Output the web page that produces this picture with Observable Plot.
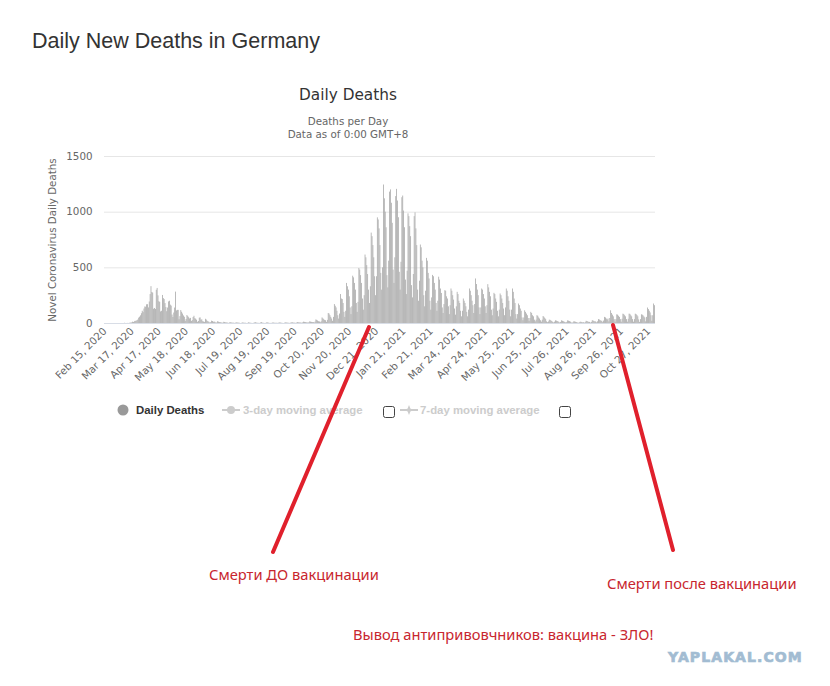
<!DOCTYPE html>
<html><head><meta charset="utf-8">
<script src="https://cdn.jsdelivr.net/npm/d3@7"></script>
<script src="https://cdn.jsdelivr.net/npm/@observablehq/plot@0.6"></script>
<style>
body{margin:0;background:#fff;}
#wrap{position:relative;width:830px;height:686px;overflow:hidden;}
#chart{position:absolute;left:0;top:140px;}
#over{position:absolute;left:0;top:0;}
</style></head><body><div id="wrap"><div id="chart"></div><svg id="over" width="830" height="686"></svg></div>
<script>
// ---- data ----
const startDate = "2020-02-15";
const tickLabels = ["Feb 15, 2020","Mar 17, 2020","Apr 17, 2020","May 18, 2020","Jun 18, 2020","Jul 19, 2020","Aug 19, 2020","Sep 19, 2020","Oct 20, 2020","Nov 20, 2020","Dec 21, 2020","Jan 21, 2021","Feb 21, 2021","Mar 24, 2021","Apr 24, 2021","May 25, 2021","Jun 25, 2021","Jul 26, 2021","Aug 26, 2021","Sep 26, 2021","Oct 27, 2021"];
const yTicks = [0, 500, 1000, 1500];
// daily deaths, one row per week (Sat..Fri) starting Feb 15, 2020
const dailyDeaths = [
0,0,0,0,0,0,0,
0,0,0,0,0,0,0,
0,0,0,0,0,0,0,
0,0,2,0,0,1,0,
1,3,4,5,12,9,16,
20,19,26,31,48,57,69,
88,110,98,130,149,146,168,
169,140,193,260,331,279,273,
128,135,126,299,315,248,196,
190,104,110,252,224,215,179,
143,106,139,194,200,165,156,
76,54,94,139,282,113,118,
118,34,62,116,101,85,68,
56,20,36,72,62,52,41,
46,18,26,54,65,43,39,
29,11,18,48,50,30,33,
16,13,10,38,31,20,15,
12,5,7,21,18,11,13,
10,3,5,16,12,8,7,
6,2,4,11,9,6,5,
4,1,2,8,6,4,3,
3,1,2,6,5,4,3,
2,0,1,5,4,3,2,
2,0,1,6,4,3,1,
1,0,2,5,7,4,2,
2,1,1,5,8,3,2,
1,0,2,6,5,3,1,
1,0,3,5,4,2,2,
2,1,2,4,6,3,2,
1,0,2,6,5,4,3,
2,1,3,5,7,4,3,
3,1,4,8,6,5,5,
4,2,6,12,10,8,6,
6,3,7,15,12,10,8,
9,4,12,32,28,22,16,
14,7,15,50,42,35,27,
25,10,28,90,85,70,55,
40,20,55,170,155,140,110,
70,40,85,260,220,215,180,
100,55,110,360,330,300,240,
140,80,150,425,410,360,300,
180,100,190,494,480,430,360,
220,120,250,615,590,520,440,
300,180,330,812,780,700,590,
420,250,420,949,930,850,700,
450,300,500,1244,1120,1000,860,
430,320,560,1180,1200,1080,900,
480,360,590,1140,1205,1100,950,
460,300,550,1130,1145,1010,860,
390,260,470,985,960,870,780,
340,230,440,960,994,850,700,
300,200,380,705,680,560,500,
250,150,290,585,560,450,400,
200,120,230,432,420,360,300,
180,110,200,416,390,310,270,
140,90,170,295,290,240,220,
150,80,160,310,290,250,210,
130,75,150,280,260,200,180,
110,60,110,220,200,180,150,
100,60,120,310,290,250,200,
160,90,170,400,350,300,250,
140,80,140,310,300,260,220,
150,90,160,349,320,280,240,
120,70,130,271,260,220,190,
110,60,120,265,250,220,180,
130,70,140,310,290,240,200,
120,60,120,310,280,220,180,
80,40,80,175,160,130,110,
50,25,50,114,100,85,70,
45,20,45,100,90,70,60,
30,15,30,70,65,50,40,
25,12,30,63,55,45,35,
15,8,14,30,28,22,18,
10,5,12,24,22,18,15,
10,4,10,24,20,16,12,
9,4,10,24,21,17,13,
6,2,7,15,14,11,8,
5,2,5,10,12,8,6,
7,3,8,20,18,14,10,
10,4,10,25,22,18,14,
14,6,15,35,32,26,20,
20,8,22,55,50,40,32,
40,15,45,114,90,75,60,
35,12,35,78,75,65,55,
35,12,38,84,80,70,60,
35,12,38,84,82,70,60,
35,12,35,84,80,72,60,
32,10,35,78,75,68,58,
50,15,55,139,125,110,95,
70,20,70,175,160
];

// ---- build table ----
const fmt = d3.utcFormat("%b %-d, %Y");
const t0 = new Date(startDate + "T00:00:00Z");
const rows = dailyDeaths.map((v, i) => ({date: fmt(d3.utcDay.offset(t0, i)), deaths: v}));
const dates = rows.map(r => r.date);

const chart = Plot.plot({
  width: 830, height: 250,
  marginLeft: 104, marginRight: 175, marginTop: 16, marginBottom: 67,
  style: {fontFamily: "DejaVu Sans", fontSize: "10.3px", color: "#666", background: "transparent", overflow: "visible"},
  x: {type: "band", domain: dates, padding: 0.12, round: false},
  y: {domain: [0, 1500]},
  marks: [
    Plot.gridY(yTicks.slice(1), {stroke: "#e6e6e6", strokeOpacity: 1}),
    Plot.barY(rows, {x: "date", y: "deaths", fill: "#a6a6a6"}),
    Plot.ruleY([0], {stroke: "#d8dde6"}),
    Plot.axisY({ticks: yTicks, tickSize: 0, tickPadding: 12, tickFormat: d => String(d), label: "Novel Coronavirus Daily Deaths", labelAnchor: "center", labelArrow: "none", labelOffset: 56}),
    Plot.axisX({ticks: tickLabels, tickRotate: -45, tickSize: 0, tickPadding: 6, label: null})
  ]
});
document.getElementById("chart").appendChild(chart);

// ---- titles, legend, annotations ----
const svg = d3.select("#over");
function txt(x, y, s, o) {
  const t = svg.append("text").attr("x", x).attr("y", y).text(s);
  for (const k in o) t.attr(k, o[k]);
  return t;
}
txt(32, 48, "Daily New Deaths in Germany", {"font-family": "Liberation Sans", "font-size": 21.5, fill: "#333"});
txt(348, 100, "Daily Deaths", {"font-family": "DejaVu Sans", "font-size": 15.3, fill: "#333", "text-anchor": "middle"});
txt(348, 125, "Deaths per Day", {"font-family": "DejaVu Sans", "font-size": 10.3, fill: "#666", "text-anchor": "middle"});
txt(348, 138, "Data as of 0:00 GMT+8", {"font-family": "DejaVu Sans", "font-size": 10.3, fill: "#666", "text-anchor": "middle"});

// legend
const lg = {"font-family": "Liberation Sans", "font-size": 11.4, "font-weight": "bold"};
svg.append("circle").attr("cx", 123).attr("cy", 410).attr("r", 5.5).attr("fill", "#999");
txt(136, 414, "Daily Deaths", {...lg, fill: "#333"});
svg.append("line").attr("x1", 222).attr("x2", 240).attr("y1", 410).attr("y2", 410).attr("stroke", "#ccc").attr("stroke-width", 2);
svg.append("circle").attr("cx", 231).attr("cy", 410).attr("r", 4).attr("fill", "#ccc");
txt(243, 414, "3-day moving average", {...lg, fill: "#ccc"});
svg.append("rect").attr("x", 383.5).attr("y", 406.5).attr("width", 11).attr("height", 11).attr("rx", 2).attr("fill", "#fff").attr("stroke", "#444");
svg.append("line").attr("x1", 400).attr("x2", 418).attr("y1", 410).attr("y2", 410).attr("stroke", "#ccc").attr("stroke-width", 2);
svg.append("path").attr("d", "M409,405 L411,410 L409,415 L407,410 Z M404,410 L409,408 L414,410 L409,412 Z").attr("fill", "#ccc");
txt(420, 414, "7-day moving average", {...lg, fill: "#ccc"});
svg.append("rect").attr("x", 559.5).attr("y", 406.5).attr("width", 11).attr("height", 11).attr("rx", 2).attr("fill", "#fff").attr("stroke", "#444");

// red hand-drawn strokes
svg.append("line").attr("x1", 369).attr("y1", 327).attr("x2", 273).attr("y2", 552).attr("stroke", "#e0202c").attr("stroke-width", 4).attr("stroke-linecap", "round");
svg.append("line").attr("x1", 613).attr("y1", 325).attr("x2", 673).attr("y2", 550).attr("stroke", "#e0202c").attr("stroke-width", 4).attr("stroke-linecap", "round");

const red = {"font-family": "Noto Sans", "font-size": 14.7, fill: "#c8262e"};
txt(209, 580, "Смерти ДО вакцинации", red);
txt(607, 589, "Смерти после вакцинации", red);
txt(353, 640, "Вывод антипривовчников: вакцина - ЗЛО!", red);
txt(668, 662, "YAPLAKAL.COM", {"font-family": "DejaVu Sans", "font-size": 14, "font-weight": "bold", fill: "#a2bcd2", stroke: "#a2bcd2", "stroke-width": 0.7, "letter-spacing": 1.1});
</script></body></html>
